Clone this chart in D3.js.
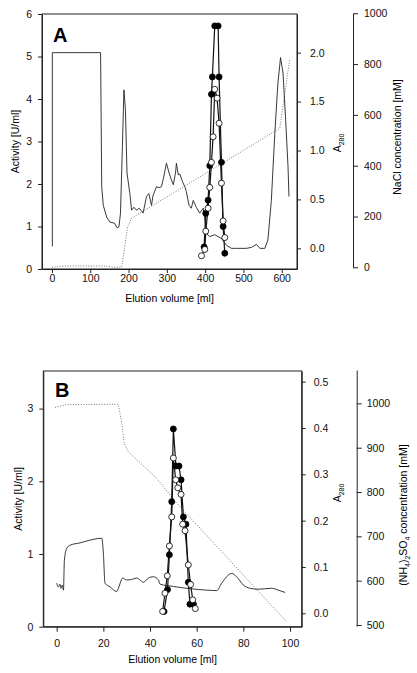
<!DOCTYPE html>
<html><head><meta charset="utf-8">
<script src="https://cdn.jsdelivr.net/npm/d3@7"></script>
<style>
body{margin:0;background:#fff;}
svg{display:block;font-family:"Liberation Sans",Arial,Helvetica,sans-serif;}
</style></head>
<body><svg id="c" width="417" height="673"></svg>
<script>
// ---------- Panel A data ----------
const xTicksA = [0,100,200,300,400,500,600];
const actTicksA = [0,1,2,3,4,5,6];
const a280TicksA = [0.0,0.5,1.0,1.5,2.0];
const naclTicks = [0,200,400,600,800,1000];
// A280 trace (elution volume ml, A280)
const a280TraceA = [[1,0.02],[1,2.0],[127,2.0],[130,0.63],[134,0.44],[143,0.32],[151,0.27],[164,0.255],[170,0.21],[175,0.22],[179,0.36],[184,1.04],[188,1.62],[192,1.41],[196,0.77],[203.5,0.56],[208,0.39],[214,0.42],[221,0.39],[228,0.41],[234,0.38],[238,0.36],[247,0.53],[253,0.56],[260,0.44],[264,0.54],[273,0.63],[280,0.62],[286,0.63],[292,0.73],[299,0.87],[306,0.77],[312,0.70],[317,0.65],[323,0.78],[325,0.87],[330,0.75],[334,0.76],[341,0.68],[347,0.63],[351,0.58],[358,0.44],[364,0.41],[369,0.49],[377,0.42],[386,0.36],[395,0.41],[399,0.30],[404,0.15],[412,0.12],[425,0.14],[443,0.10],[456,0.03],[469,0.0],[482,0.0],[508,0.0],[521,0.01],[534,0.04],[543,0.0],[556,0.0],[564,0.085],[573,0.49],[582,1.17],[590,1.68],[597,1.95],[603.5,1.79],[610,1.34],[616.6,0.83],[619,0.53]];
// NaCl gradient (ml, mM)
const naclTrace = [[0,0],[29,5],[143,5],[160,0],[182,1],[190,81],[197.5,160],[208,193],[595,547],[621,819]];
// Activity (ml, U/ml)
const actOpenA = [[390.6,0.31],[399.2,0.46],[401.7,0.89],[407.8,1.43],[412.2,1.92],[416.6,2.51],[420.9,3.11],[425.2,4.23],[431.3,4.02],[436.5,3.43],[442.7,2.02],[447,1.13],[451.4,0.74]];
const actFilledA = [[397.4,0.52],[401.7,1.31],[407.8,1.62],[412.2,2.43],[416.6,4.11],[419,4.52],[425.2,5.72],[434,5.72],[436.5,4.52],[442.7,2.51],[447,1.0],[451.4,0.37]];

// ---------- Panel B data ----------
const xTicksB = [0,20,40,60,80,100];
const actTicksB = [0,1,2,3];
const a280TicksB = [0.0,0.1,0.2,0.3,0.4,0.5];
const nh4Ticks = [500,600,700,800,900,1000];
const a280TraceB = [[0,0.065],[0.7,0.057],[1.4,0.063],[1.8,0.054],[2.4,0.061],[2.9,0.050],[3.3,0.115],[4.3,0.14],[5.7,0.147],[10,0.152],[14.3,0.158],[19.3,0.162],[20,0.13],[20.7,0.065],[22.9,0.057],[25.7,0.047],[26.1,0.05],[28.3,0.076],[30,0.072],[32.1,0.073],[34.3,0.076],[35.7,0.072],[37.1,0.067],[39.3,0.076],[41.4,0.079],[43.6,0.072],[44.3,0.063],[50,0.058],[64.3,0.05],[68.6,0.049],[70.7,0.065],[75,0.086],[77.1,0.079],[80,0.061],[82.9,0.054],[86.4,0.052],[92.1,0.054],[95,0.05],[97.9,0.045]];
const nh4Trace = [[-0.7,991],[4.3,997],[26.4,998],[27.9,955],[28.9,910],[30.7,891],[43,830],[51.4,775],[98.6,507]];
const actOpenB = [[45.4,0.21],[46.4,0.46],[47.4,0.70],[48.3,1.11],[49.3,1.51],[50,2.32],[51,2.02],[51.9,1.91],[53.3,1.82],[54,1.41],[55,1.32],[56.4,0.85],[57.4,0.58],[58.3,0.37],[59.4,0.25]];
const actFilledB = [[46,0.21],[47.5,0.51],[48.3,0.99],[49.3,1.72],[50,2.72],[51.1,2.21],[52.4,2.21],[53.3,2.02],[54.3,1.51],[55.4,1.41],[56.4,0.61],[57.1,0.31],[58.6,0.31]];

const svg = d3.select("#c");
const FS = 10.5;

function panel(o){
  const g = svg.append("g");
  const x = d3.scaleLinear().domain(o.xDom).range([o.L,o.R]);
  const yAct = d3.scaleLinear().domain(o.actDom).range([o.B,o.T]);
  const yA = d3.scaleLinear().domain(o.aDom).range([o.B,o.T]);
  const yC = d3.scaleLinear().domain(o.cDom).range([o.cB,o.cT]);
  const fmt1 = d3.format(".1f");

  // box
  g.append("rect").attr("x",o.L).attr("y",o.T).attr("width",o.R-o.L).attr("height",o.B-o.T)
    .attr("fill","none").attr("stroke","#222").attr("stroke-width",1);

  const styleAxis = (sel)=>{
    sel.selectAll("path").attr("stroke","#222").attr("stroke-width",1);
    sel.selectAll("line").attr("stroke","#222");
    sel.selectAll("text").attr("font-size",FS).attr("fill","#111").attr("font-family","Liberation Sans, Arial, sans-serif");
  };
  g.append("g").attr("transform",`translate(0,${o.B})`)
    .call(d3.axisBottom(x).tickValues(o.xTicks).tickSize(o.xTick).tickPadding(o.xPad).tickSizeOuter(0)).call(styleAxis);
  g.append("g").attr("transform",`translate(${o.L},0)`)
    .call(d3.axisLeft(yAct).tickValues(o.actTicks).tickFormat(d3.format("d")).tickSize(4).tickPadding(6).tickSizeOuter(0)).call(styleAxis);
  g.append("g").attr("transform",`translate(${o.R},0)`)
    .call(d3.axisRight(yA).tickValues(o.aTicks).tickFormat(fmt1).tickSize(4).tickPadding(o.aPad).tickSizeOuter(0)).call(styleAxis);
  g.append("g").attr("transform",`translate(${o.cX},0)`)
    .call(d3.axisRight(yC).tickValues(o.cTicks).tickFormat(d3.format("d")).tickSize(5).tickPadding(o.cPad).tickSizeOuter(0)).call(styleAxis);

  // dotted concentration
  g.append("path").datum(o.conc)
    .attr("d",d3.line().x(d=>x(d[0])).y(d=>yC(d[1])))
    .attr("fill","none").attr("stroke","#777").attr("stroke-width",1).attr("stroke-dasharray","1,1.6");
  // A280 trace
  g.append("path").datum(o.trace)
    .attr("d",d3.line().x(d=>x(d[0])).y(d=>yA(d[1])).curve(o.curve))
    .attr("fill","none").attr("stroke","#222").attr("stroke-width",0.9);
  // activity lines
  [o.filled,o.open].forEach(s=>{
    g.append("path").datum(s).attr("d",d3.line().x(d=>x(d[0])).y(d=>yAct(d[1])))
      .attr("fill","none").attr("stroke","#111").attr("stroke-width",1.2);
  });
  g.selectAll("circle.f").data(o.filled).join("circle").attr("class","f")
    .attr("cx",d=>x(d[0])).attr("cy",d=>yAct(d[1])).attr("r",3)
    .attr("fill","#000").attr("stroke","#000").attr("stroke-width",0.8);
  g.selectAll("circle.o").data(o.open).join("circle").attr("class","o")
    .attr("cx",d=>x(d[0])).attr("cy",d=>yAct(d[1])).attr("r",3)
    .attr("fill","#fff").attr("stroke","#000").attr("stroke-width",0.8);

  // labels
  g.append("text").attr("x",o.letterX).attr("y",o.letterY).attr("font-size",20).attr("font-weight","bold")
    .attr("font-family","Liberation Sans, Arial, sans-serif").text(o.letter);
  g.append("text").attr("x",(o.L+o.R)/2).attr("y",o.xLabY).attr("text-anchor","middle").attr("font-size",FS).text("Elution volume [ml]");
  g.append("text").attr("transform",`translate(${o.actLabX},${(o.T+o.B)/2}) rotate(-90)`).attr("text-anchor","middle").attr("font-size",FS).text("Activity [U/ml]");
  const aLab = g.append("text").attr("transform",`translate(${o.aLabX},${o.aLabY}) rotate(-90)`).attr("text-anchor","middle").attr("font-size",FS);
  aLab.append("tspan").text("A");
  aLab.append("tspan").attr("font-size",7).attr("dy",2.5).text("280");
  const cLab = g.append("text").attr("transform",`translate(${o.cLabX},${o.cLabY}) rotate(-90)`).attr("text-anchor","middle").attr("font-size",FS);
  o.cLabel.forEach(p=>{
    const t = cLab.append("tspan").text(p[0]);
    if(p[1]){ t.attr("font-size",7).attr("dy",2.5); }
    else if(p[2]){ t.attr("dy",-2.5); }
  });
}

panel({
  L:42,R:297,T:14,B:269,
  xDom:[-26,640], actDom:[0,6], aDom:[-0.211,2.395], cDom:[0,1000], cB:267.3, cT:13.3, cX:353,
  xTicks:xTicksA, actTicks:actTicksA, aTicks:a280TicksA, cTicks:naclTicks,
  xTick:4, xPad:2, aPad:9, cPad:6,
  trace:a280TraceA, conc:naclTrace, open:actOpenA, filled:actFilledA, curve:d3.curveLinear,
  letter:"A", letterX:53, letterY:42,
  xLabY:302, actLabX:19, aLabX:341, aLabY:143, cLabX:401, cLabY:137,
  cLabel:[["NaCl concentration [mM]"]]
});
panel({
  L:43.3,R:301.7,T:371,B:626.7,
  xDom:[-5.74,105], actDom:[0,3.517], aDom:[-0.0289,0.523], cDom:[497.7,1075.3], cB:626, cT:370, cX:356.7,
  xTicks:xTicksB, actTicks:actTicksB, aTicks:a280TicksB, cTicks:nh4Ticks,
  xTick:5, xPad:8, aPad:8, cPad:5,
  trace:a280TraceB, conc:nh4Trace, open:actOpenB, filled:actFilledB, curve:d3.curveMonotoneX,
  letter:"B", letterX:55, letterY:397,
  xLabY:663, actLabX:22, aLabX:341, aLabY:493, cLabX:407, cLabY:515,
  cLabel:[["(NH"],["4",true],[")",false,true],["2",true],["SO",false,true],["4",true],[" concentration [mM]",false,true]]
});
</script></body></html>
